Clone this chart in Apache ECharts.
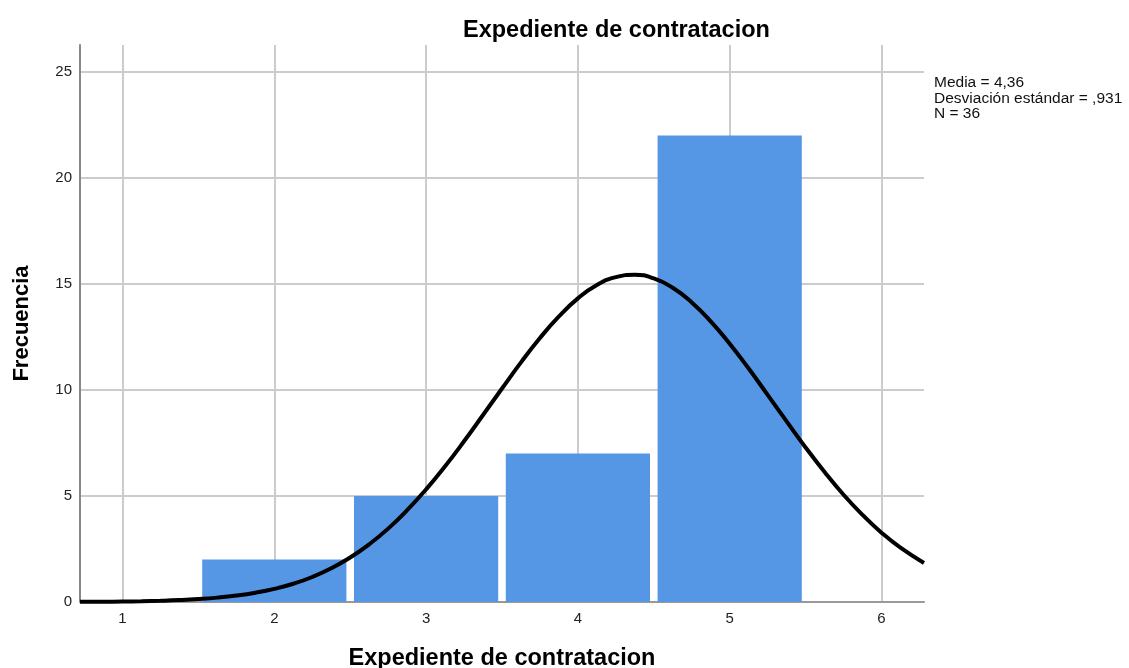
<!DOCTYPE html>
<html>
<head>
<meta charset="utf-8">
<script src="https://cdn.jsdelivr.net/npm/echarts@6/dist/echarts.min.js"></script>
<style>
  html, body { margin: 0; padding: 0; background: #fff; }
  #chart { width: 1129px; height: 668px; }
</style>
</head>
<body>
<div id="chart"></div>
<script>
// histogram bins (value -> frequency)
const binValues = [2, 3, 4, 5]
const binCounts = [2, 5, 7, 22]

// normal curve
const curveX = [0.72, 0.875, 1, 1.125, 1.25, 1.375, 1.5, 1.625, 1.75, 1.875, 2, 2.125, 2.25, 2.375, 2.5, 2.625, 2.75, 2.875,
  3, 3.125, 3.25, 3.375, 3.5, 3.625, 3.75, 3.875, 4, 4.125, 4.25, 4.375, 4.5, 4.625, 4.75, 4.875,
  5, 5.125, 5.25, 5.375, 5.5, 5.625, 5.75, 5.875, 6, 6.125, 6.28]
const curveY = [0.01, 0.014, 0.023, 0.037, 0.058, 0.09, 0.138, 0.206, 0.303, 0.438, 0.62, 0.86, 1.18, 1.59, 2.1, 2.72, 3.46, 4.33,
  5.31, 6.4, 7.58, 8.82, 10.07, 11.3, 12.45, 13.47, 14.32, 14.95, 15.32, 15.43, 15.26, 14.82, 14.13, 13.24,
  12.18, 11.01, 9.77, 8.52, 7.29, 6.13, 5.06, 4.11, 3.27, 2.56, 1.84]

const xTicks = [1, 2, 3, 4, 5, 6]
const yTicks = [0, 5, 10, 15, 20, 25]

const statsLines = ['Media = 4,36', 'Desviación estándar = ,931', 'N = 36']

const chart = echarts.init(document.getElementById('chart'))
const font = 'Liberation Sans, Arial, sans-serif'

chart.setOption({
  animation: false,
  textStyle: { fontFamily: font },
  title: {
    text: 'Expediente de contratacion',
    left: 458,
    top: 14,
    textStyle: { fontSize: 23.5, fontWeight: 'bold', color: '#000', fontFamily: font }
  },
  grid: { left: 80, right: 205, top: 45, bottom: 66, outerBoundsMode: 'none' },
  xAxis: {
    type: 'value',
    min: 0.72,
    max: 6.28,
    name: 'Expediente de contratacion',
    nameLocation: 'middle',
    nameGap: 45,
    nameTextStyle: { fontSize: 23.5, fontWeight: 'bold', color: '#000' },
    axisLine: { show: true, lineStyle: { color: '#999', width: 2 } },
    axisTick: { show: false, customValues: xTicks },
    axisLabel: { customValues: xTicks, color: '#222', fontSize: 15, margin: 9 },
    splitLine: { show: true, lineStyle: { color: '#cccccc', width: 2 } }
  },
  yAxis: {
    type: 'value',
    min: 0,
    max: 26.27,
    name: 'Frecuencia',
    nameLocation: 'middle',
    nameGap: 47,
    nameRotate: 90,
    nameTextStyle: { fontSize: 22, fontWeight: 'bold', color: '#000' },
    axisLine: { show: true, lineStyle: { color: '#888', width: 2 } },
    axisTick: { show: false, customValues: yTicks },
    axisLabel: { customValues: yTicks, color: '#222', fontSize: 15, margin: 8 },
    splitLine: { show: true, lineStyle: { color: '#cccccc', width: 2 } }
  },
  graphic: [{
    type: 'text',
    left: 934,
    top: 75,
    style: {
      text: statsLines.join('\n'),
      font: '15.5px ' + font,
      lineHeight: 15.5,
      fill: '#111'
    }
  }],
  series: [
    {
      type: 'custom',
      data: binValues.map((v, i) => [v, binCounts[i]]),
      renderItem(params, api) {
        const x = api.value(0)
        const h = api.value(1)
        const p0 = api.coord([x - 0.475, h])
        const p1 = api.coord([x + 0.475, 0])
        return {
          type: 'rect',
          shape: { x: p0[0], y: p0[1], width: p1[0] - p0[0], height: p1[1] - p0[1] },
          style: { fill: '#5596e5' }
        }
      },
      z: 2
    },
    {
      type: 'line',
      data: curveX.map((x, i) => [x, curveY[i]]),
      smooth: true,
      symbol: 'none',
      lineStyle: { color: '#000', width: 4 },
      z: 3
    }
  ]
})
</script>
</body>
</html>
